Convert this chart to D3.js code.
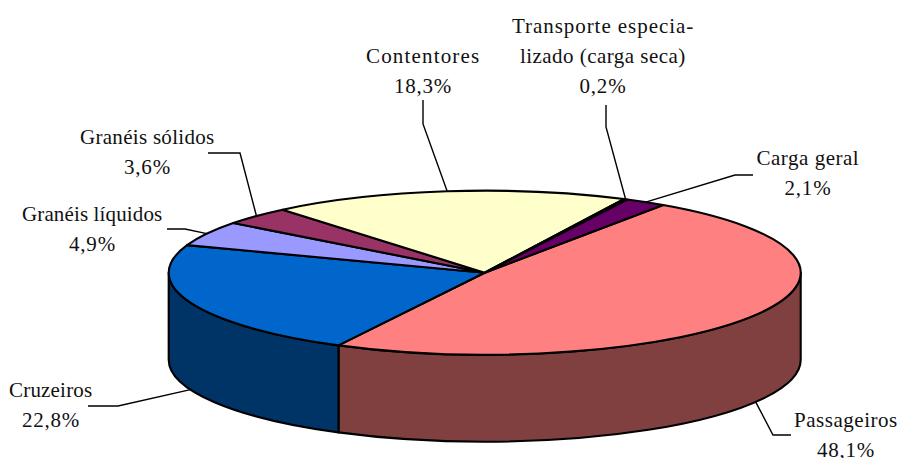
<!DOCTYPE html>
<html>
<head>
<meta charset="utf-8">
<script src="https://cdn.jsdelivr.net/npm/d3@7"></script>
<style>
  html, body { margin: 0; background: #fff; overflow: hidden; }
  svg { display: block; }
  text { font-family: "Liberation Serif", serif; font-size: 21px; letter-spacing: 0.8px; fill: #111; text-anchor: middle; }
</style>
</head>
<body>
<div id="chart"></div>
<script>
var categories = ["Passageiros", "Cruzeiros", "Granéis líquidos", "Granéis sólidos", "Contentores", "Transporte especializado (carga seca)", "Carga geral"];
var shares = [48.1, 22.8, 4.9, 3.6, 18.3, 0.2, 2.1];
var shareLabels = ["48,1%", "22,8%", "4,9%", "3,6%", "18,3%", "0,2%", "2,1%"];
var topColors = ["#FF8080", "#0066CC", "#9999FF", "#993366", "#FFFFCC", "#CCFFFF", "#660066"];
var sideColors = ["#804040", "#003366", "#4D4D80", "#4D1A33", "#808066", "#668080", "#330033"];

var svgWidth = 899;
var svgHeight = 458;

// ellipse of the pie top
var cx = 484.7, cy = 272.7, rx = 316, ry = 82, depth = 87;
var startAngle = 34.4 * Math.PI / 180;

// label centre, name lines (with drawn width) and leader elbow for each slice
var labelLayout = [
  { x: 846, y: 427, name: [["Passageiros", 104]], leader: [[773, 435], [791, 435]] },
  { x: 51, y: 397, name: [["Cruzeiros", 84]], leader: [[118, 406], [88, 406]] },
  { x: 92.5, y: 221, name: [["Granéis líquidos", 141]], leader: [[185, 229], [167, 229]] },
  { x: 147.5, y: 144, name: [["Granéis sólidos", 135]], leader: [[240, 153], [208, 153]] },
  { x: 423, y: 63, name: [["Contentores", 114]], leader: [[423, 124], [423, 100]] },
  { x: 603, y: 33, name: [["Transporte especia-", 182], ["lizado (carga seca)", 166]], leader: [[606, 127], [606, 105]] },
  { x: 808, y: 165, name: [["Carga geral", 103]], leader: [[735, 175], [753, 175]] }
];

var svg = d3.select("#chart")
  .append("svg")
  .attr("width", svgWidth)
  .attr("height", svgHeight);

var pie = d3.pie()
  .sort(null)
  .startAngle(startAngle)
  .endAngle(startAngle + 2 * Math.PI);

var slices = pie(shares);

function px(a) { return cx + rx * Math.sin(a); }
function py(a) { return cy - ry * Math.cos(a); }

// the wall of a slice, only the part that faces the viewer
function sidePath(a0, a1) {
  var from = Math.max(a0, Math.PI / 2);
  var to = Math.min(a1, 3 * Math.PI / 2);
  if (to <= from) return null;
  var large = to - from > Math.PI ? 1 : 0;
  return `M${px(from)},${py(from)}` +
    `A${rx},${ry} 0 ${large} 1 ${px(to)},${py(to)}` +
    `L${px(to)},${py(to) + depth}` +
    `A${rx},${ry} 0 ${large} 0 ${px(from)},${py(from) + depth}Z`;
}

svg.append("g")
  .selectAll("path")
  .data(slices)
  .enter()
  .append("path")
  .attr("d", d => sidePath(d.startAngle, d.endAngle))
  .attr("fill", (d, i) => sideColors[i])
  .attr("stroke", "#000")
  .attr("stroke-width", 2.1)
  .attr("stroke-linejoin", "round");

var arc = d3.arc().innerRadius(0).outerRadius(rx);

svg.append("g")
  .attr("transform", `translate(${cx},${cy}) scale(1,${ry / rx})`)
  .selectAll("path")
  .data(slices)
  .enter()
  .append("path")
  .attr("d", arc)
  .attr("fill", (d, i) => topColors[i])
  .attr("stroke", "#000")
  .attr("stroke-width", 2.1)
  .attr("stroke-linejoin", "round")
  .attr("vector-effect", "non-scaling-stroke");

// leaders start on the rim at the middle of the slice
function leaderPoints(d, i) {
  var mid = (d.startAngle + d.endAngle) / 2;
  var m = mid % (2 * Math.PI);
  var front = m > Math.PI / 2 && m < 3 * Math.PI / 2;
  return [[px(mid), py(mid) + (front ? depth : 0)]].concat(labelLayout[i].leader);
}

svg.append("g")
  .selectAll("path")
  .data(slices)
  .enter()
  .append("path")
  .attr("d", (d, i) => d3.line()(leaderPoints(d, i)))
  .attr("fill", "none")
  .attr("stroke", "#000")
  .attr("stroke-width", 1.4);

// one text per line, names are stretched to the width they have in the picture
var labelLines = [];
labelLayout.forEach((d, i) => {
  d.name.forEach((n, j) => {
    labelLines.push({ t: n[0], w: n[1], x: d.x, y: d.y + j * 30 });
  });
  labelLines.push({ t: shareLabels[i], x: d.x, y: d.y + d.name.length * 30 });
});

svg.append("g")
  .selectAll("text")
  .data(labelLines)
  .enter()
  .append("text")
  .attr("x", d => d.x)
  .attr("y", d => d.y)
  .attr("textLength", d => d.w || null)
  .attr("lengthAdjust", d => d.w ? "spacing" : null)
  .text(d => d.t);
</script>
</body>
</html>
